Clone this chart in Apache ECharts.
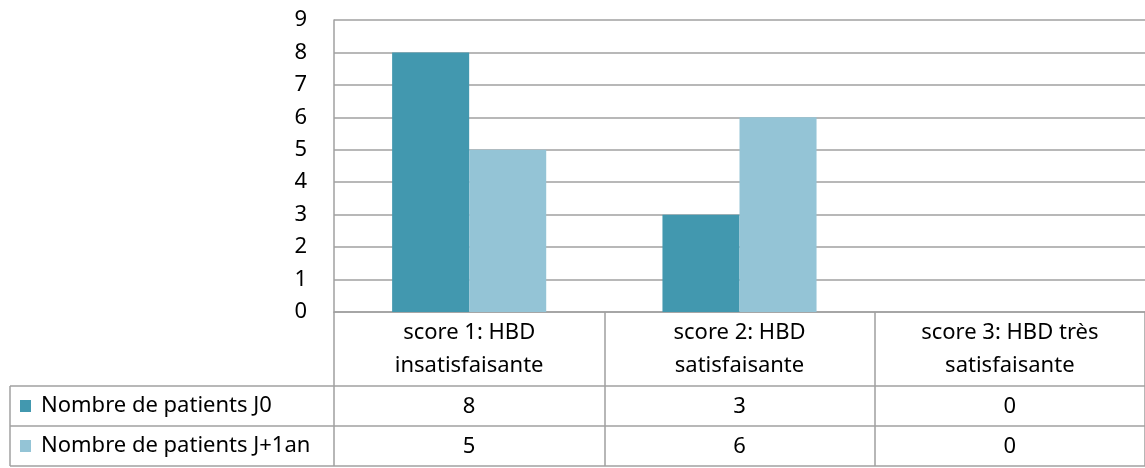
<!DOCTYPE html>
<html><head><meta charset="utf-8">
<script src="https://cdn.jsdelivr.net/npm/echarts@6/dist/echarts.min.js"></script>
<style>html,body{margin:0;padding:0;background:#fff}#c{width:1145px;height:468px}</style>
</head><body><div id="c"></div>
<script>
var categories = ["score 1: HBD\ninsatisfaisante", "score 2: HBD\nsatisfaisante", "score 3: HBD très\nsatisfaisante"];
var seriesNames = ["Nombre de patients J0", "Nombre de patients J+1an"];
var valuesJ0 = [8, 3, 0];
var valuesJ1an = [5, 6, 0];
var yTicks = [0, 1, 2, 3, 4, 5, 6, 7, 8, 9];

var FONT = "Noto Sans";
var FS = 22;
var LINE = "#a0a0a0";
var colors = ["#4298AF", "#94C4D6"];
var chart = echarts.init(document.getElementById('c'), null, {renderer: 'canvas'});
var gridTop = 20, gridBottom = 156, gridLeft = 334;
var rowTop = [386, 426], rowH = 40;

function legendFor(i) {
  return {
    orient: 'horizontal', left: 20, top: rowTop[i] + rowH/2 - 12, padding: 0,
    itemWidth: 11, itemHeight: 12, icon: 'rect', selectedMode: false,
    textStyle: {fontFamily: FONT, fontSize: FS, color: '#000', lineHeight: 24, height: 24, padding: [0,0,0,5]},
    data: [seriesNames[i]]
  };
}
var option = {
  animation: false,
  textStyle: {fontFamily: FONT},
  color: colors,
  grid: {left: gridLeft, right: 0, top: gridTop, bottom: gridBottom, containLabel: false},
  legend: [legendFor(0), legendFor(1)],
  xAxis: {
    type: 'category', data: categories, boundaryGap: true,
    axisLine: {show: true, lineStyle: {color: LINE, width: 1.5}},
    axisTick: {show: true, length: 154, lineStyle: {color: LINE, width: 1.5}},
    axisLabel: {fontFamily: FONT, fontSize: FS, color: '#000', lineHeight: 33, margin: 4},
    splitLine: {show: false}
  },
  yAxis: {
    type: 'value', min: yTicks[0], max: yTicks[yTicks.length-1], interval: 1,
    axisLine: {show: true, lineStyle: {color: LINE, width: 1.5}},
    axisTick: {show: false},
    axisLabel: {fontFamily: FONT, fontSize: FS, color: '#000', margin: 27},
    splitLine: {show: true, lineStyle: {color: LINE, width: 1.5}}
  },
  series: [
    {name: seriesNames[0], type: 'bar', data: valuesJ0, barWidth: '28.5%', barGap: '0%'},
    {name: seriesNames[1], type: 'bar', data: valuesJ1an, barWidth: '28.5%', barGap: '0%'}
  ]
};
chart.setOption(option);

// data table built from the arrays
var rows = [valuesJ0, valuesJ1an];
var g = [];
var lineStyle = {stroke: LINE, lineWidth: 1.5};
[386, 426, 466].forEach(function(y){
  g.push({type: 'line', shape: {x1: 10, y1: y, x2: 1145, y2: y}, style: lineStyle, silent: true});
});
g.push({type: 'line', shape: {x1: 10, y1: 386, x2: 10, y2: 466}, style: lineStyle, silent: true});
rows.forEach(function(vals, r){
  vals.forEach(function(v, i){
    var x = chart.convertToPixel({xAxisIndex: 0}, i);
    g.push({type: 'text', x: x, y: rowTop[r] + rowH/2 + 1, silent: true,
      style: {text: String(v), fontFamily: FONT, fontSize: FS, fill: '#000', align: 'center', verticalAlign: 'middle'}});
  });
});
chart.setOption({graphic: g});
</script></body></html>
